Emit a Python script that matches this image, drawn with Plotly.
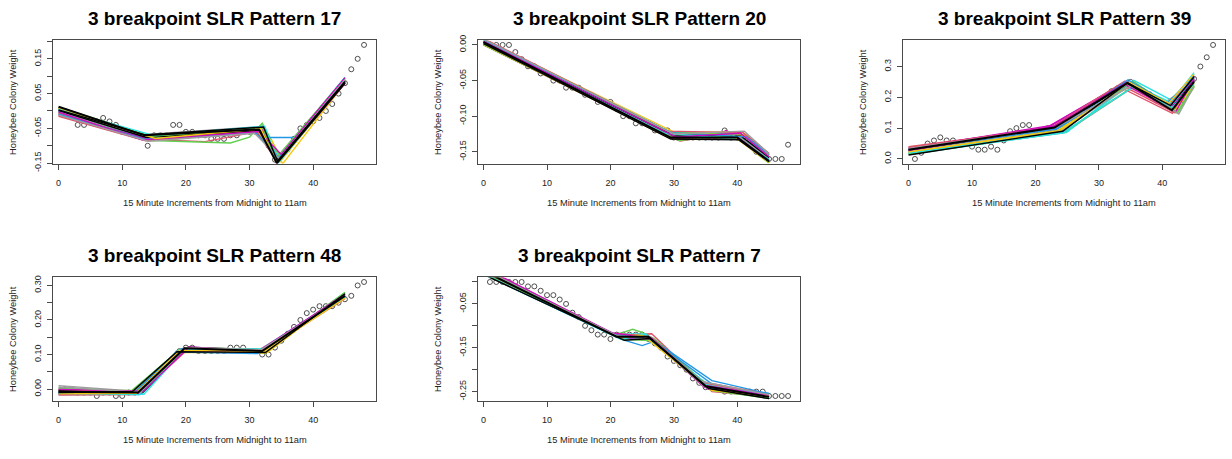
import plotly.graph_objects as go

# ---------------------------------------------------------------------------
# Observed colony weight change, one value per 15-minute increment (1..48)
# ---------------------------------------------------------------------------
increments = list(range(1, 49))

weight_p17 = [0.00, -0.01, -0.04, -0.04, -0.03, -0.03, -0.02, -0.03, -0.04, -0.06,
              -0.06, -0.07, -0.07, -0.10, -0.07, -0.07, -0.07, -0.04, -0.04, -0.06,
              -0.06, -0.07, -0.07, -0.08, -0.08, -0.08, -0.07, -0.07, -0.06, -0.06,
              -0.06, -0.05, -0.10, -0.14, -0.13, -0.11, -0.08, -0.05, -0.04, -0.03,
              -0.02, 0.00, 0.02, 0.05, 0.08, 0.12, 0.15, 0.19]

weight_p20 = [0.00, 0.00, 0.00, 0.00, -0.01, -0.02, -0.03, -0.03, -0.04, -0.04,
              -0.05, -0.05, -0.06, -0.06, -0.06, -0.07, -0.07, -0.08, -0.08, -0.08,
              -0.09, -0.10, -0.10, -0.11, -0.11, -0.11, -0.12, -0.12, -0.12, -0.13,
              -0.13, -0.13, -0.13, -0.13, -0.13, -0.13, -0.13, -0.12, -0.13, -0.13,
              -0.13, -0.14, -0.15, -0.15, -0.16, -0.16, -0.16, -0.14]

weight_p39 = [0.00, 0.02, 0.05, 0.06, 0.07, 0.06, 0.06, 0.05, 0.05, 0.04,
              0.03, 0.03, 0.04, 0.03, 0.06, 0.09, 0.10, 0.11, 0.11, 0.09,
              0.09, 0.10, 0.10, 0.10, 0.11, 0.13, 0.14, 0.16, 0.17, 0.19,
              0.20, 0.22, 0.23, 0.24, 0.25, 0.23, 0.22, 0.21, 0.19, 0.18,
              0.17, 0.16, 0.19, 0.22, 0.26, 0.30, 0.33, 0.37]

weight_p48 = [0.00, 0.00, -0.01, -0.01, -0.01, -0.02, -0.01, -0.01, -0.02, -0.02,
              -0.01, -0.01, 0.00, 0.02, 0.03, 0.05, 0.07, 0.09, 0.11, 0.12,
              0.12, 0.11, 0.11, 0.11, 0.11, 0.11, 0.12, 0.12, 0.12, 0.11,
              0.11, 0.10, 0.10, 0.12, 0.14, 0.16, 0.18, 0.20, 0.22, 0.23,
              0.24, 0.24, 0.24, 0.25, 0.26, 0.27, 0.30, 0.31]

weight_p7 = [0.00, 0.00, 0.00, 0.00, 0.00, 0.00, -0.01, -0.01, -0.02, -0.03,
             -0.03, -0.04, -0.05, -0.07, -0.08, -0.10, -0.11, -0.12, -0.12, -0.13,
             -0.12, -0.12, -0.12, -0.12, -0.12, -0.13, -0.14, -0.15, -0.17, -0.18,
             -0.19, -0.20, -0.22, -0.23, -0.24, -0.24, -0.24, -0.25, -0.25, -0.25,
             -0.25, -0.25, -0.25, -0.25, -0.26, -0.26, -0.26, -0.26]

# ---------------------------------------------------------------------------
# Resampled 3-breakpoint segmented fits: (knot x, knot y) per fit
# ---------------------------------------------------------------------------
fits_p17 = [
    ([0, 14, 23, 31, 34.5, 45], [-0.013, -0.082, -0.088, -0.060, -0.140, 0.085]),
    ([0, 14.5, 27, 30, 32, 34.8, 45], [-0.005, -0.085, -0.092, -0.075, -0.035, -0.130, 0.090]),
    ([0, 14, 31, 32, 37, 45], [0.000, -0.080, -0.060, -0.076, -0.076, 0.085]),
    ([0, 14, 31.5, 34.5, 45], [0.005, -0.080, -0.058, -0.135, 0.095]),
    ([0, 13, 32, 34.2, 45], [0.002, -0.072, -0.048, -0.145, 0.083]),
    ([0, 15, 31, 33.5, 35.2, 45], [-0.008, -0.085, -0.060, -0.085, -0.152, 0.080]),
    ([0, 13, 31.5, 34.6, 45], [0.008, -0.068, -0.045, -0.140, 0.090]),
    ([0, 14, 31.8, 34.4, 45], [0.010, -0.075, -0.055, -0.148, 0.082]),
    ([0, 14.5, 32, 34.7, 45], [-0.006, -0.078, -0.057, -0.138, 0.088]),
    ([0, 15, 31.2, 34.9, 45], [-0.010, -0.082, -0.062, -0.128, 0.092]),
    ([0, 13.5, 31.6, 34.1, 45], [0.004, -0.074, -0.050, -0.143, 0.086]),
    ([0, 14.2, 31.4, 34.6, 45], [-0.002, -0.079, -0.054, -0.132, 0.097]),
    ([0, 14.8, 31.9, 34.3, 45], [-0.011, -0.084, -0.052, -0.152, 0.079]),
    ([0, 13.2, 31.3, 34.8, 45], [0.007, -0.071, -0.058, -0.146, 0.084]),
    ([0, 14.4, 32.3, 34.2, 45], [-0.004, -0.077, -0.047, -0.136, 0.093]),
    ([0, 13.8, 31.7, 34.5, 45], [0.001, -0.076, -0.056, -0.141, 0.087]),
    ([0, 13.7, 31.2, 34.4, 45], [-0.015, -0.086, -0.061, -0.147, 0.081]),
    ([0, 14.6, 32.1, 34.0, 45], [0.011, -0.073, -0.049, -0.139, 0.094]),
    ([0, 13.4, 31.0, 34.6, 45], [-0.009, -0.081, -0.063, -0.134, 0.089]),
    ([0, 14.9, 32.4, 34.5, 45], [0.006, -0.070, -0.044, -0.150, 0.083]),
    ([0, 13.1, 31.5, 35.0, 45], [-0.003, -0.083, -0.059, -0.125, 0.096]),
    ([0, 15.2, 31.8, 34.2, 45], [0.009, -0.079, -0.051, -0.149, 0.082]),
    ([0, 14.1, 30.8, 34.7, 45], [-0.012, -0.087, -0.064, -0.137, 0.090]),
    ([0, 13.6, 32.2, 34.4, 45], [0.003, -0.069, -0.046, -0.144, 0.085]),
]
main_p17 = ([0, 13.5, 31.5, 34.3, 45], [0.012, -0.070, -0.053, -0.150, 0.081])

fits_p20 = [
    ([0, 29, 31, 33, 38, 41, 45], [0.001, -0.128, -0.135, -0.132, -0.127, -0.131, -0.164]),
    ([0, 29.8, 40.5, 45], [0.006, -0.124, -0.124, -0.155]),
    ([0, 29.2, 40.2, 45], [0.003, -0.127, -0.128, -0.160]),
    ([0, 30, 39.5, 45], [0.005, -0.126, -0.123, -0.157]),
    ([0, 29.5, 37, 38.2, 39.5, 45], [0.000, -0.130, -0.127, -0.120, -0.126, -0.165]),
    ([0, 30.2, 40.8, 45], [0.007, -0.123, -0.122, -0.153]),
    ([0, 28.8, 39.8, 45], [0.004, -0.125, -0.127, -0.158]),
    ([0, 29.6, 40.4, 45], [0.002, -0.129, -0.131, -0.162]),
    ([0, 30.4, 40, 45], [0.002, -0.131, -0.129, -0.162]),
    ([0, 29.3, 41.2, 45], [0.008, -0.122, -0.126, -0.154]),
    ([0, 29.9, 39.6, 45], [0.004, -0.128, -0.125, -0.159]),
    ([0, 29.4, 40.7, 45], [0.006, -0.125, -0.130, -0.156]),
    ([0, 30.6, 40.1, 45], [0.001, -0.133, -0.128, -0.163]),
    ([0, 29.1, 41, 45], [0.005, -0.124, -0.127, -0.155]),
    ([0, 30.1, 40.3, 45], [0.003, -0.127, -0.129, -0.160]),
    ([0, 29.7, 40.6, 45], [0.004, -0.126, -0.128, -0.158]),
    ([0, 29.0, 40.9, 45], [0.009, -0.121, -0.123, -0.152]),
    ([0, 30.8, 39.3, 45], [0.000, -0.134, -0.126, -0.166]),
    ([0, 29.6, 41.4, 45], [0.007, -0.123, -0.129, -0.154]),
    ([0, 28.6, 40.0, 45], [0.003, -0.124, -0.132, -0.161]),
    ([0, 30.3, 40.5, 45], [0.005, -0.129, -0.124, -0.157]),
    ([0, 29.2, 39.7, 45], [0.001, -0.130, -0.130, -0.165]),
    ([0, 30.0, 41.1, 45], [0.008, -0.125, -0.121, -0.153]),
    ([0, 29.5, 40.2, 45], [0.002, -0.132, -0.133, -0.164]),
]
main_p20 = ([0, 29.5, 40, 45], [0.004, -0.130, -0.130, -0.163])

fits_p39 = [
    ([0, 22.5, 34, 42, 45], [0.040, 0.100, 0.235, 0.150, 0.270]),
    ([0, 23.5, 35, 42.5, 45], [0.018, 0.092, 0.240, 0.152, 0.235]),
    ([0, 24, 34.8, 41, 45], [0.022, 0.090, 0.250, 0.175, 0.262]),
    ([0, 25, 35.5, 41.5, 45], [0.014, 0.088, 0.255, 0.190, 0.280]),
    ([0, 22, 34.2, 41.8, 45], [0.035, 0.103, 0.248, 0.158, 0.268]),
    ([0, 23.8, 34.6, 42.2, 45], [0.016, 0.094, 0.238, 0.160, 0.240]),
    ([0, 24.5, 35.2, 40.5, 45], [0.020, 0.085, 0.230, 0.185, 0.245]),
    ([0, 22.8, 34.4, 41.2, 45], [0.028, 0.098, 0.242, 0.165, 0.252]),
    ([0, 23.2, 33.8, 41.6, 45], [0.038, 0.096, 0.228, 0.148, 0.258]),
    ([0, 24.2, 35.4, 42.4, 45], [0.024, 0.095, 0.252, 0.155, 0.232]),
    ([0, 23.6, 34.9, 41.4, 45], [0.030, 0.099, 0.246, 0.170, 0.262]),
    ([0, 24.8, 35.1, 41.9, 45], [0.017, 0.086, 0.244, 0.178, 0.275]),
    ([0, 22.3, 34.3, 41.3, 45], [0.033, 0.108, 0.251, 0.163, 0.256]),
    ([0, 23.4, 34.7, 42, 45], [0.021, 0.091, 0.236, 0.157, 0.247]),
    ([0, 24.1, 35, 41.7, 45], [0.026, 0.093, 0.240, 0.168, 0.250]),
    ([0, 23, 34.5, 41.5, 45], [0.029, 0.100, 0.245, 0.160, 0.255]),
    ([0, 22.6, 34.1, 41.1, 45], [0.036, 0.104, 0.253, 0.172, 0.265]),
    ([0, 24.6, 35.3, 42.3, 45], [0.015, 0.089, 0.233, 0.150, 0.238]),
    ([0, 23.3, 34.6, 40.8, 45], [0.032, 0.097, 0.257, 0.182, 0.270]),
    ([0, 24.4, 35.6, 41.6, 45], [0.019, 0.087, 0.236, 0.166, 0.244]),
    ([0, 22.9, 34.0, 42.1, 45], [0.027, 0.106, 0.243, 0.153, 0.260]),
    ([0, 23.9, 34.8, 41.0, 45], [0.023, 0.092, 0.249, 0.180, 0.276]),
    ([0, 23.1, 35.3, 42.6, 45], [0.034, 0.101, 0.239, 0.146, 0.236]),
    ([0, 24.3, 34.5, 41.3, 45], [0.013, 0.090, 0.247, 0.173, 0.267]),
]
main_p39 = ([0, 23, 34.5, 41.5, 45], [0.030, 0.102, 0.247, 0.158, 0.250])

fits_p48 = [
    ([0, 12, 19.5, 32, 45], [-0.014, -0.013, 0.112, 0.108, 0.268]),
    ([0, 11.5, 18.8, 32.5, 45], [-0.004, -0.004, 0.110, 0.104, 0.275]),
    ([0, 12.8, 18.5, 31.5, 45], [-0.012, -0.016, 0.110, 0.112, 0.272]),
    ([0, 13, 19, 32, 45], [-0.016, -0.015, 0.115, 0.114, 0.266]),
    ([0, 12.5, 20.2, 31.8, 45], [-0.010, -0.012, 0.120, 0.108, 0.270]),
    ([0, 12.2, 19.6, 32.8, 45], [-0.006, -0.008, 0.106, 0.106, 0.278]),
    ([0, 11.8, 19.2, 31.2, 45], [0.002, -0.006, 0.112, 0.110, 0.265]),
    ([0, 13.2, 20.4, 32.3, 45], [-0.002, -0.010, 0.121, 0.113, 0.268]),
    ([0, 12.6, 19.9, 31.6, 45], [-0.008, -0.014, 0.108, 0.104, 0.262]),
    ([0, 11.9, 18.9, 32.1, 45], [-0.011, -0.009, 0.113, 0.107, 0.280]),
    ([0, 12.4, 19.3, 31.9, 45], [-0.013, -0.011, 0.117, 0.111, 0.274]),
    ([0, 13.4, 19.7, 32.6, 45], [-0.007, -0.015, 0.114, 0.116, 0.277]),
    ([0, 12.9, 20, 31.4, 45], [-0.015, -0.012, 0.116, 0.109, 0.271]),
    ([0, 12.1, 19.4, 32.4, 45], [-0.003, -0.005, 0.109, 0.105, 0.273]),
    ([0, 12.7, 20.3, 31.7, 45], [0.010, -0.007, 0.119, 0.112, 0.266]),
    ([0, 12.3, 19.8, 32.2, 45], [-0.005, -0.010, 0.118, 0.110, 0.269]),
    ([0, 12.0, 19.1, 31.6, 45], [-0.017, -0.016, 0.111, 0.106, 0.264]),
    ([0, 13.1, 20.1, 32.7, 45], [0.004, -0.008, 0.119, 0.115, 0.279]),
    ([0, 11.7, 18.7, 31.3, 45], [-0.009, -0.013, 0.107, 0.103, 0.272]),
    ([0, 12.6, 19.5, 32.9, 45], [-0.012, -0.016, 0.114, 0.117, 0.267]),
    ([0, 13.3, 20.5, 31.5, 45], [-0.001, -0.006, 0.122, 0.110, 0.275]),
    ([0, 12.2, 19.0, 32.2, 45], [-0.014, -0.012, 0.112, 0.109, 0.263]),
    ([0, 12.8, 19.9, 31.9, 45], [0.006, -0.009, 0.120, 0.114, 0.270]),
    ([0, 11.6, 18.6, 32.5, 45], [-0.010, -0.007, 0.108, 0.106, 0.276]),
]
main_p48 = ([0, 12.5, 19.8, 32, 45], [-0.008, -0.010, 0.118, 0.110, 0.270])

fits_p7 = [
    ([0, 21, 26.5, 36, 45], [0.022, -0.122, -0.118, -0.250, -0.262]),
    ([0, 20.5, 22, 23.5, 25, 27, 35, 45], [0.028, -0.120, -0.115, -0.108, -0.115, -0.130, -0.232, -0.258]),
    ([0, 20, 22, 25, 27, 36, 45], [0.018, -0.117, -0.132, -0.145, -0.135, -0.225, -0.255]),
    ([0, 21.5, 26, 35.5, 45], [0.030, -0.128, -0.128, -0.235, -0.265]),
    ([0, 21.2, 25.8, 34.8, 45], [0.024, -0.124, -0.122, -0.240, -0.257]),
    ([0, 20.8, 26.2, 34.2, 45], [0.026, -0.121, -0.126, -0.230, -0.260]),
    ([0, 21.8, 25.5, 35.2, 45], [0.020, -0.130, -0.124, -0.242, -0.262]),
    ([0, 21, 26, 35, 45], [0.025, -0.126, -0.127, -0.236, -0.263]),
    ([0, 20.3, 26.8, 34.5, 45], [0.032, -0.119, -0.131, -0.228, -0.256]),
    ([0, 22, 25.2, 35.8, 45], [0.019, -0.132, -0.121, -0.246, -0.264]),
    ([0, 21.4, 26.4, 36.5, 45], [0.027, -0.127, -0.130, -0.238, -0.254]),
    ([0, 20.6, 25.6, 34.6, 45], [0.023, -0.118, -0.119, -0.232, -0.266]),
    ([0, 21.6, 26.6, 35.4, 45], [0.021, -0.129, -0.133, -0.244, -0.259]),
    ([0, 20.9, 25.4, 35.1, 45], [0.029, -0.123, -0.120, -0.234, -0.261]),
    ([0, 21.3, 26.3, 34.9, 45], [0.022, -0.125, -0.125, -0.239, -0.260]),
    ([0, 21.1, 25.9, 35.3, 45], [0.026, -0.124, -0.126, -0.237, -0.262]),
    ([0, 20.4, 25.7, 34.3, 45], [0.031, -0.117, -0.123, -0.229, -0.258]),
    ([0, 21.9, 26.9, 36.2, 45], [0.020, -0.131, -0.134, -0.248, -0.265]),
    ([0, 20.7, 26.1, 35.6, 45], [0.027, -0.120, -0.129, -0.241, -0.255]),
    ([0, 21.7, 25.3, 34.7, 45], [0.018, -0.131, -0.119, -0.233, -0.263]),
    ([0, 20.2, 26.5, 35.0, 45], [0.033, -0.116, -0.128, -0.236, -0.259]),
    ([0, 21.5, 25.1, 35.9, 45], [0.024, -0.127, -0.122, -0.247, -0.261]),
    ([0, 20.9, 26.7, 34.4, 45], [0.028, -0.122, -0.132, -0.227, -0.257]),
    ([0, 22.2, 26.2, 35.5, 45], [0.017, -0.133, -0.129, -0.243, -0.266]),
]
main_p7 = ([0, 21, 26, 35, 45], [0.025, -0.125, -0.125, -0.238, -0.262])

# Axis ticks (values and their printed labels; blank = unlabeled tick)
x_ticks = [0, 10, 20, 30, 40]
y_ticks_p17 = [-0.15, -0.10, -0.05, 0.00, 0.05, 0.10, 0.15, 0.20]
y_text_p17 = ["-0.15", "", "-0.05", "", "0.05", "", "0.15", ""]
y_ticks_p20 = [-0.15, -0.10, -0.05, 0.00]
y_text_p20 = ["-0.15", "-0.10", "-0.05", "0.00"]
y_ticks_p39 = [0.0, 0.1, 0.2, 0.3]
y_text_p39 = ["0.0", "0.1", "0.2", "0.3"]
y_ticks_p48 = [0.00, 0.05, 0.10, 0.15, 0.20, 0.25, 0.30]
y_text_p48 = ["0.00", "", "0.10", "", "0.20", "", "0.30"]
y_ticks_p7 = [-0.25, -0.20, -0.15, -0.10, -0.05, 0.00]
y_text_p7 = ["-0.25", "", "-0.15", "", "-0.05", ""]

panels = [
    dict(title="3 breakpoint SLR Pattern 17", weight=weight_p17, fits=fits_p17, main=main_p17,
         yr=[-0.151, 0.203], yt=y_ticks_p17, ytt=y_text_p17, box=(53, 376, 36.5, 163.5)),
    dict(title="3 breakpoint SLR Pattern 20", weight=weight_p20, fits=fits_p20, main=main_p20,
         yr=[-0.1664, 0.0064], yt=y_ticks_p20, ytt=y_text_p20, box=(478, 800, 36.5, 163.5)),
    dict(title="3 breakpoint SLR Pattern 39", weight=weight_p39, fits=fits_p39, main=main_p39,
         yr=[-0.0148, 0.3848], yt=y_ticks_p39, ytt=y_text_p39, box=(903, 1225, 36.5, 163.5)),
    dict(title="3 breakpoint SLR Pattern 48", weight=weight_p48, fits=fits_p48, main=main_p48,
         yr=[-0.0332, 0.3232], yt=y_ticks_p48, ytt=y_text_p48, box=(53, 376, 281, 408)),
    dict(title="3 breakpoint SLR Pattern 7", weight=weight_p7, fits=fits_p7, main=main_p7,
         yr=[-0.2704, 0.0104], yt=y_ticks_p7, ytt=y_text_p7, box=(478, 800, 281, 408)),
]

W, H = 1232, 459
FONT = "Liberation Sans, Arial, sans-serif"
PALETTE = ["#000000", "#DF536B", "#61D04F", "#2297E6",
           "#28E2E5", "#CD0BBC", "#F5C710", "#9E9E9E"]
FRAME = "#4a4a4a"

fig = go.Figure()
annotations = []

for i, p in enumerate(panels, start=1):
    sfx = "" if i == 1 else str(i)
    xa, ya = "x" + sfx, "y" + sfx
    left, right, top, bottom = p["box"]

    fig.add_trace(go.Scatter(
        x=increments, y=p["weight"], mode="markers", xaxis=xa, yaxis=ya,
        marker=dict(symbol="circle-open", size=5, color="#3c3c3c", line=dict(width=0.9)),
        showlegend=False, hoverinfo="skip"))

    for k, (fx, fy) in enumerate(p["fits"]):
        fig.add_trace(go.Scatter(
            x=fx, y=fy, mode="lines", xaxis=xa, yaxis=ya,
            line=dict(color=PALETTE[(k + 1) % len(PALETTE)], width=1.4),
            showlegend=False, hoverinfo="skip"))

    mx, my = p["main"]
    fig.add_trace(go.Scatter(
        x=mx, y=my, mode="lines", xaxis=xa, yaxis=ya,
        line=dict(color="#000000", width=2.0),
        showlegend=False, hoverinfo="skip"))

    axis_common = dict(
        showline=True, mirror=True, linecolor=FRAME, linewidth=1,
        ticks="outside", ticklen=5, tickwidth=1, tickcolor=FRAME,
        showgrid=False, zeroline=False,
        tickfont=dict(family=FONT, size=9, color="#222222"),
    )
    fig.update_layout({
        "xaxis" + sfx: dict(
            domain=[left / W, right / W], range=[-0.88, 49.88], anchor=ya,
            tickmode="array", tickvals=x_ticks, ticktext=[str(t) for t in x_ticks],
            ticklabelstandoff=6, **axis_common),
        "yaxis" + sfx: dict(
            domain=[1 - bottom / H, 1 - top / H], range=p["yr"], anchor=xa,
            tickmode="array", tickvals=p["yt"], ticktext=p["ytt"],
            tickangle=-90, ticklabelstandoff=2, **axis_common),
    })

    cx = (left + right) / 2 / W
    annotations.append(dict(
        text="<b>%s</b>" % p["title"], x=cx, y=1 - (top - 23) / H,
        xref="paper", yref="paper", showarrow=False, xanchor="center", yanchor="middle",
        font=dict(family=FONT, size=19, color="#000000")))
    annotations.append(dict(
        text="15 Minute Increments from Midnight to 11am", x=cx, y=1 - (bottom + 41) / H,
        xref="paper", yref="paper", showarrow=False, xanchor="center", yanchor="middle",
        font=dict(family=FONT, size=9.3, color="#222222")))
    annotations.append(dict(
        text="Honeybee Colony Weight", x=(left - 40) / W, y=1 - (top + bottom) / 2 / H,
        xref="paper", yref="paper", showarrow=False, xanchor="center", yanchor="middle",
        textangle=-90, font=dict(family=FONT, size=9.3, color="#222222")))

fig.update_layout(
    width=W, height=H, margin=dict(l=0, r=0, t=0, b=0),
    paper_bgcolor="white", plot_bgcolor="white",
    annotations=annotations,
)

fig.write_html("out.html")
